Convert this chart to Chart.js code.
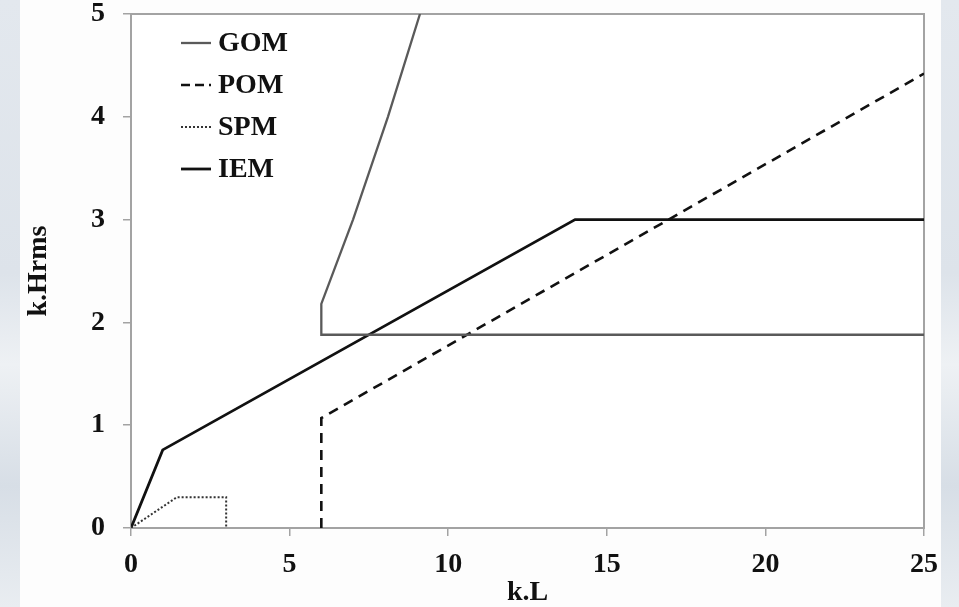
<!DOCTYPE html>
<html>
<head>
<meta charset="utf-8">
<script src="https://cdn.jsdelivr.net/npm/chart.js@4.4.1/dist/chart.umd.min.js"></script>
<style>
  html, body { margin: 0; padding: 0; }
  body {
    width: 959px; height: 607px; overflow: hidden;
    background: linear-gradient(180deg, #e3e8ee 0%, #dde3ea 45%, #eef1f4 60%, #d7dee6 80%, #e9edf1 100%);
    position: relative;
  }
  #panel {
    position: absolute; left: 20px; top: 0; width: 921px; height: 607px;
    background: #fdfdfd;
  }
  #wrap { position: absolute; left: 0; top: 0; width: 959px; height: 607px; }
</style>
</head>
<body>
<div id="panel"></div>
<div id="wrap"><canvas id="chart" width="959" height="607"></canvas></div>
<script>
// series (k.L, k.Hrms)
const gomX = [25, 6, 6, 7.0, 8.1, 9.11];
const gomY = [1.88, 1.88, 2.18, 3.0, 4.0, 5];

const pomX = [6, 6, 25];
const pomY = [0, 1.07, 4.42];

const spmX = [0, 1.45, 3, 3];
const spmY = [0, 0.3, 0.3, 0];

const iemX = [0, 1, 14, 25];
const iemY = [0, 0.76, 3, 3];

const xTicks = [0, 5, 10, 15, 20, 25];
const yTicks = [0, 1, 2, 3, 4, 5];

const serif = '"Liberation Serif", "Times New Roman", serif';
const frameColor = '#a3a3a3';

const pts = (xs, ys) => xs.map((x, i) => ({ x: x, y: ys[i] }));

// gray box round the plot area
const frame = {
  id: 'frame',
  beforeDatasetsDraw(chart) {
    const a = chart.chartArea;
    const ctx = chart.ctx;
    ctx.save();
    ctx.fillStyle = '#ffffff';
    ctx.fillRect(a.left, a.top, a.right - a.left, a.bottom - a.top);
    ctx.strokeStyle = frameColor;
    ctx.lineWidth = 2;
    ctx.strokeRect(a.left, a.top, a.right - a.left, a.bottom - a.top);
    ctx.restore();
  }
};

// legend inside the plot, top left
const insideLegend = {
  id: 'insideLegend',
  afterDatasetsDraw(chart) {
    const a = chart.chartArea;
    const ctx = chart.ctx;
    ctx.save();
    ctx.font = 'bold 28px ' + serif;
    ctx.textBaseline = 'middle';
    chart.data.datasets.forEach((ds, i) => {
      const y = a.top + 29 + i * 42;
      const x0 = a.left + 50;
      ctx.strokeStyle = ds.borderColor;
      ctx.lineWidth = ds.borderWidth;
      ctx.setLineDash(ds.legendDash || []);
      ctx.beginPath();
      ctx.moveTo(x0, y);
      ctx.lineTo(x0 + 30, y);
      ctx.stroke();
      ctx.setLineDash([]);
      ctx.fillStyle = '#111111';
      ctx.fillText(ds.label, x0 + 37, y + 1);
    });
    ctx.restore();
  }
};

new Chart(document.getElementById('chart'), {
  type: 'scatter',
  data: {
    datasets: [
      { label: 'GOM', data: pts(gomX, gomY), borderColor: '#5a5a5a', borderWidth: 2.3 },
      { label: 'POM', data: pts(pomX, pomY), borderColor: '#111111', borderWidth: 2.6, borderDash: [10, 7], legendDash: [9, 5] },
      { label: 'SPM', data: pts(spmX, spmY), borderColor: '#333333', borderWidth: 2, borderDash: [2, 2], legendDash: [2, 2] },
      { label: 'IEM', data: pts(iemX, iemY), borderColor: '#111111', borderWidth: 2.8 }
    ].map(d => Object.assign({
      showLine: true, pointRadius: 0, pointHoverRadius: 0,
      borderJoinStyle: 'miter', fill: false, tension: 0
    }, d))
  },
  options: {
    responsive: false,
    animation: false,
    layout: { padding: { left: 0, top: 14, right: 35, bottom: 0 } },
    plugins: { legend: { display: false }, tooltip: { enabled: false } },
    scales: {
      x: {
        type: 'linear', min: 0, max: 25,
        afterBuildTicks: axis => { axis.ticks = xTicks.map(v => ({ value: v })); },
        afterFit: axis => { axis.height = 79; axis.paddingLeft = 0; axis.paddingRight = 0; },
        grid: { drawOnChartArea: false, drawTicks: true, tickLength: 8, color: frameColor, lineWidth: 1.5 },
        border: { display: false },
        ticks: { color: '#111111', padding: 12, maxRotation: 0, font: { family: serif, size: 28, weight: 'bold' } },
        title: { display: true, text: 'k.L', color: '#111111', padding: { top: 0, bottom: 0 },
                 font: { family: serif, size: 28, weight: 'bold', lineHeight: 1 } }
      },
      y: {
        type: 'linear', min: 0, max: 5,
        afterBuildTicks: axis => { axis.ticks = yTicks.map(v => ({ value: v })); },
        afterFit: axis => { axis.width = 131; axis.paddingTop = 0; axis.paddingBottom = 0; },
        grid: { drawOnChartArea: false, drawTicks: true, tickLength: 8, color: frameColor, lineWidth: 1.5 },
        border: { display: false },
        ticks: { color: '#111111', padding: 18, font: { family: serif, size: 28, weight: 'bold' } },
        title: { display: true, text: 'k.Hrms', color: '#111111', padding: { top: 25, bottom: 0 },
                 font: { family: serif, size: 28, weight: 'bold', lineHeight: 1 } }
      }
    }
  },
  plugins: [frame, insideLegend]
});
</script>
</body>
</html>
